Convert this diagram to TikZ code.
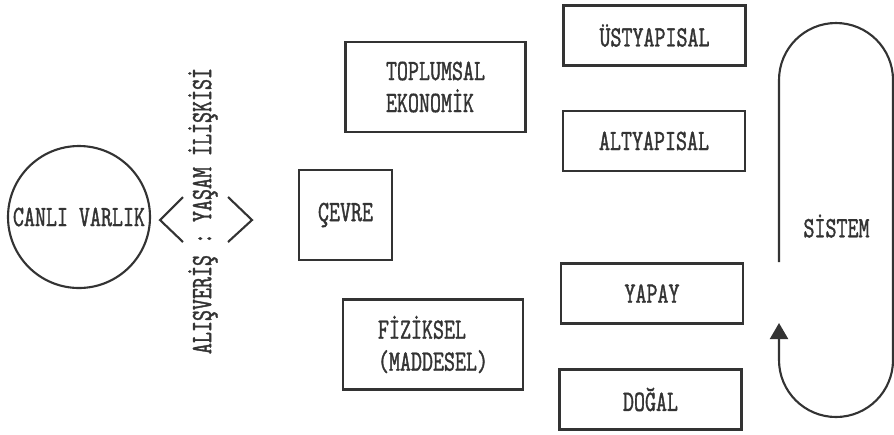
\documentclass[tikz,border=0pt]{standalone}
\usepackage{fontspec}
\setmonofont{lmmono10-regular.otf}[FakeStretch=0.71, FakeBold=1.2]
\usepackage{tikz}
\usetikzlibrary{
    arrows.meta,
    positioning
}
\definecolor{murekkep}{HTML}{333333}

\begin{document}
\begin{tikzpicture}[
    every node/.style={font=\ttfamily\fontsize{16.8}{18.2}\selectfont, text=murekkep},
    kutu/.style={draw=murekkep, line width=1.2pt, inner sep=0pt, align=left},
    kucuk/.style={kutu, minimum width=3.64cm, minimum height=1.2cm},
    buyuk/.style={kutu, minimum width=3.6cm, minimum height=1.8cm}
]
                        \useasboundingbox (0,0) rectangle (17.88,-8.68);

                        \node[draw=murekkep, line width=1.2pt, circle, minimum size=2.84cm, inner sep=0pt] (canli) at (1.58, -4.34) {CANLI VARLIK};
                        \node[rotate=90] (iliski) at (4.06, -4.22) {ALIŞVERİŞ : YAŞAM İLİŞKİSİ};
                        \node[kutu, minimum width=1.86cm, minimum height=1.8cm] (cevre) at (6.91, -4.30) {ÇEVRE};
                        \node[buyuk] (toplumsal) at (8.71, -1.74) {TOPLUMSAL\\EKONOMİK};
                        \node[buyuk] (fiziksel) at (8.66, -6.89) {FİZİKSEL\\(MADDESEL)};
                        \node[kucuk] (ustyapi) at (13.09, -0.71) {ÜSTYAPISAL};
                        \node[kucuk] (altyapi) at (13.08, -2.82) {ALTYAPISAL};
                        \node[kucuk] (yapay) at (13.04, -5.87) {YAPAY};
                        \node[kucuk] (dogal) at (13.01, -7.99) {DOĞAL};
                        \node (sistem) at (16.73, -4.52) {SİSTEM};

                        % aci parantezler
                        \draw[murekkep, line width=1.2pt]
                        (3.66, -3.94) -- (3.2, -4.4) -- (3.66, -4.84)
                        (4.56, -3.94) -- (5.04, -4.4) -- (4.56, -4.84);

                        % sistem dongusu
                        \coordinate (bas) at (15.58, -5.24);
                        \coordinate (uc) at (15.58, -6.46);
                        \draw[murekkep, line width=1.2pt, -{Triangle[length=0.32cm, width=0.36cm]}]
                        (bas) -- (15.58, -1.6) arc[start angle=180, end angle=0, radius=1.14]
                        -- (17.86, -7.2) arc[start angle=0, end angle=-180, radius=1.14] -- (uc);
                    \end{tikzpicture}
\end{document}
